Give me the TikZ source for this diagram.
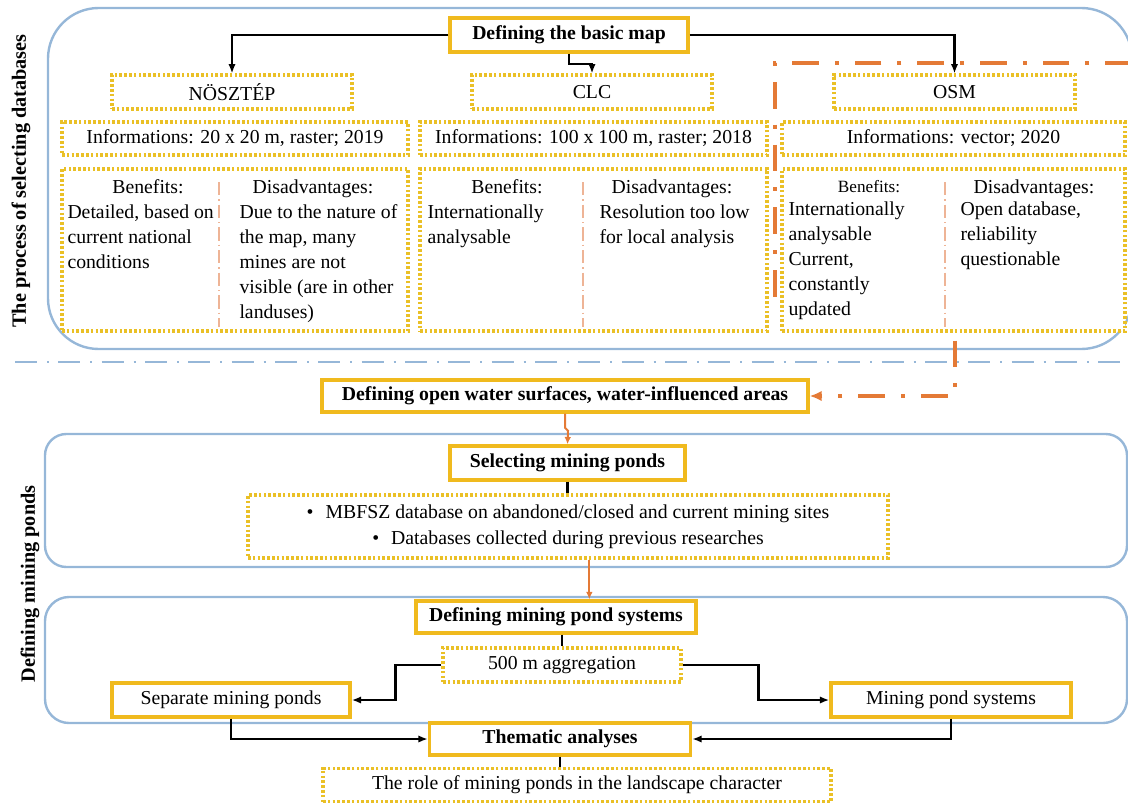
\documentclass[tikz,border=0pt]{standalone}
\usepackage{fontspec}
\setmainfont{Liberation Serif}
\usetikzlibrary{arrows.meta}

\definecolor{goldline}{RGB}{240,186,30}
\definecolor{golddot}{RGB}{234,192,38}
\definecolor{frameblue}{RGB}{150,183,216}
\definecolor{osmorange}{RGB}{228,122,54}
\definecolor{splitsalmon}{RGB}{238,180,150}

\newcommand\diagfont{\fontsize{14.8}{18.75}\selectfont}
\newcommand\osmfont{\fontsize{12.9}{18.5}\selectfont}
\newcommand\sidelabelfont{\fontsize{15.2}{18}\selectfont\bfseries}

\tikzset{every picture/.style={line width=0.75pt}}
\tikzset{
  goldbox/.style={draw=goldline,line width=2.6pt,fill=white,inner sep=0pt,font=\diagfont\bfseries},
  plainbox/.style={draw=goldline,line width=2.6pt,fill=white,inner sep=0pt,font=\diagfont},
  dotbox/.style={draw=golddot,line width=2.3pt,dash pattern=on 2pt off 1.6pt,fill=white,inner sep=0pt,font=\diagfont},
  frame/.style={draw=frameblue,line width=1.8pt},
  flowarrow/.style={draw=black,line width=1.7pt,-{Latex[length=7pt,width=5.5pt]}},
  tick/.style={draw=black,line width=2.2pt},
  osmarrow/.style={draw=osmorange,line width=1.5pt,-{Latex[length=5.5pt,width=5pt]}},
  splitline/.style={draw=splitsalmon,line width=1.2pt,dash pattern=on 10pt off 3pt on 1pt off 3pt},
  celltext/.style={anchor=north west,inner sep=0pt,align=left,font=\diagfont},
  cellhead/.style={anchor=base,inner sep=0pt,font=\diagfont},
}

\begin{document}
\begin{tikzpicture}[x=0.75pt,y=0.75pt,yscale=-1,xscale=1]
\useasboundingbox (0,0) rectangle (1128,803);

%Rounded Rect
\draw [frame,rounded corners=38pt] (48,8) rectangle (1132,349);
%Rounded Rect
\draw [frame,rounded corners=16pt] (45,434) rectangle (1127,567);
%Rounded Rect
\draw [frame,rounded corners=18pt] (45,597) rectangle (1127,723);
%Straight Lines
\draw [draw=frameblue,line width=1.9pt,dash pattern=on 16.5pt off 7.5pt on 1.5pt off 7pt] (15,362) -- (1128,362);

% Text Node
\draw (565,396) node (owater) [goldbox,minimum width=364.5pt,minimum height=24pt] {Defining open water surfaces, water-influenced areas};

%Straight Lines (OSM frame and its link)
\draw [draw=osmorange,line width=2.6pt,dash pattern=on 20pt off 12pt on 3pt off 12pt,-{Latex[length=9pt,width=8pt]}] (1132,63) -- (775,63) -- (775,305) -- (955,305) |- (owater.east);

% Text Node
\draw (569,35) node (basic) [goldbox,minimum width=178.5pt,minimum height=25.5pt] {Defining the basic map};
% Text Node
\draw (232,92) node (nosz) [dotbox,minimum width=180pt,minimum height=25.5pt] {NÖSZTÉP};
% Text Node
\draw (592,92) node (clc) [dotbox,minimum width=180pt,minimum height=25.5pt] {CLC};
% Text Node
\draw (954.5,92) node (osm) [dotbox,minimum width=180.75pt,minimum height=25.5pt] {OSM};

% Text Node
\draw (235,138.5) node (info1) [dotbox,minimum width=259.5pt,minimum height=24.75pt] {Informations: 20 x 20 m, raster; 2019};
% Text Node
\draw (593.5,138.5) node (info2) [dotbox,minimum width=260.25pt,minimum height=24.75pt] {Informations: 100 x 100 m, raster; 2018};
% Text Node
\draw (953.5,138.5) node (info3) [dotbox,minimum width=257.25pt,minimum height=24.75pt] {Informations: vector; 2020};

%Shape: Rectangle
\draw (235,250) node (ben1) [dotbox,minimum width=259.5pt,minimum height=121.5pt] {};
\draw (593.5,250) node (ben2) [dotbox,minimum width=260.25pt,minimum height=121.5pt] {};
\draw (953.5,250) node (ben3) [dotbox,minimum width=257.25pt,minimum height=121.5pt] {};
%Straight Lines
\draw [splitline] (219,182) -- (219,327);
\draw [splitline] (583,182) -- (583,327);
\draw [splitline] (945,182) -- (945,327);

% Text Node
\draw (148,193) node (head1a) [cellhead] {Benefits:};
\draw (67,204) node (text1a) [celltext] {Detailed, based on\\current national\\conditions};
\draw (313,193) node (head1b) [cellhead] {Disadvantages:};
\draw (239,204) node (text1b) [celltext] {Due to the nature of\\the map, many\\mines are not\\visible (are in other\\landuses)};
% Text Node
\draw (507,193) node (head2a) [cellhead] {Benefits:};
\draw (427,204) node (text2a) [celltext] {Internationally\\analysable};
\draw (672,193) node (head2b) [cellhead] {Disadvantages:};
\draw (599,204) node (text2b) [celltext] {Resolution too low\\for local analysis};
% Text Node
\draw (869,192) node (head3a) [cellhead,font=\osmfont] {Benefits:};
\draw (788,201) node (text3a) [celltext] {Internationally\\analysable\\Current,\\constantly\\updated};
\draw (1034,193) node (head3b) [cellhead] {Disadvantages:};
\draw (960,201) node (text3b) [celltext] {Open database,\\reliability\\questionable};

% Text Node
\draw (567.5,463) node (sel) [goldbox,minimum width=176.25pt,minimum height=25.5pt] {Selecting mining ponds};
% Text Node
\draw (568,526.5) node (bul) [dotbox,minimum width=480pt,minimum height=47.25pt,align=center,font=\fontsize{14.8}{19.5}\selectfont] {\textbullet\hspace{9pt}MBFSZ database on abandoned/closed and current mining sites\\\textbullet\hspace{9pt}Databases collected during previous researches};
% Text Node
\draw (556,617) node (dmp) [goldbox,minimum width=210pt,minimum height=24pt] {Defining mining pond systems};
% Text Node
\draw (562,665) node (agg) [dotbox,minimum width=178.5pt,minimum height=25.5pt] {500 m aggregation};
% Text Node
\draw (231,700) node (sep) [plainbox,minimum width=178.5pt,minimum height=25.5pt] {Separate mining ponds};
% Text Node
\draw (951,700) node (mps) [plainbox,minimum width=180pt,minimum height=25.5pt] {Mining pond systems};
% Text Node
\draw (560,739) node (them) [goldbox,minimum width=195.75pt,minimum height=24pt] {Thematic analyses};
% Text Node
\draw (577,785) node (role) [dotbox,minimum width=381pt,minimum height=24.75pt] {The role of mining ponds in the landscape character};

% Text Node
\draw (21,181) node (procl) [rotate=90,font=\sidelabelfont] {The process of selecting databases};
% Text Node
\draw (30,584) node (pondl) [rotate=90,font=\sidelabelfont] {Defining mining ponds};

%Straight Lines
\draw [flowarrow] (basic.west) -| (nosz.north);
\draw [flowarrow] (basic.east) -| (osm.north);
\draw [flowarrow] (basic.south) -- ++(0,10) -| (clc.north);
\draw [osmarrow] (owater.south) -- ++(0,14) -- ++(3,3) -- (sel.north);
\draw [tick] (sel.south) -- (sel.south |- bul.north);
\draw [osmarrow] ([xshift=16pt]bul.south) -- ([xshift=16pt]bul.south |- dmp.north);
\draw [tick] (agg.north |- dmp.south) -- (agg.north);
\draw [flowarrow] (agg.west) -- ++(-46,0) |- (sep.east);
\draw [flowarrow] (agg.east) -- ++(76,0) |- (mps.west);
\draw [flowarrow] (sep.south) |- (them.west);
\draw [flowarrow] (mps.south) |- (them.east);
\draw [tick] (them.south) -- (them.south |- role.north);
\end{tikzpicture}
\end{document}
